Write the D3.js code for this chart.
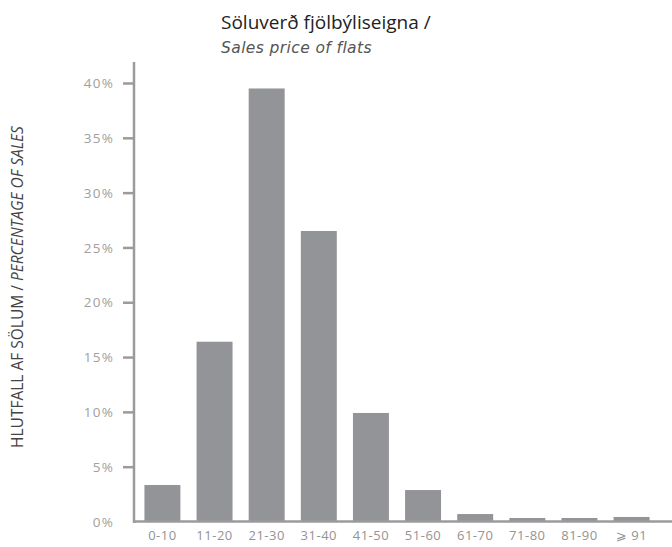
<!DOCTYPE html>
<html><head><meta charset="utf-8">
<script src="https://cdn.jsdelivr.net/npm/d3@7"></script>
<style>body{margin:0;background:#fff}svg{display:block}</style>
</head><body><svg id="c" width="672" height="547"></svg>
<script>
const categories = ["0-10","11-20","21-30","31-40","41-50","51-60","61-70","71-80","81-90","\u2A7E 91"];
const shares = [3.33, 16.4, 39.5, 26.5, 9.9, 2.87, 0.68, 0.32, 0.32, 0.41];
const yTicks = [0,5,10,15,20,25,30,35,40];

const svg = d3.select("#c");
const font = "'Open Sans', 'DejaVu Sans', sans-serif";
const axisColor = "#9b9b9e";
const x = d3.scaleBand().domain(categories).range([134, 660]).paddingInner(0.31).paddingOuter(0.2);
const y = d3.scaleLinear().domain([0, 40]).range([521.5, 83]);

// bars
svg.append("g").selectAll("rect").data(shares).join("rect")
  .attr("x", (d,i) => x(categories[i]))
  .attr("width", x.bandwidth())
  .attr("y", d => y(d))
  .attr("height", d => y(0) - y(d))
  .attr("fill", "#939498");

// y axis
const ya = svg.append("g").attr("transform", "translate(134,0)")
  .call(d3.axisLeft(y).tickValues(yTicks).tickSize(11).tickPadding(9).tickFormat(d => d + "%"));
ya.select(".domain").remove();
ya.selectAll(".tick line").attr("stroke", axisColor).attr("stroke-width", 2.5);
ya.selectAll(".tick").filter(d => d === 0).select("line").remove();
ya.selectAll(".tick text").attr("fill", "#a0a0a0").style("font-family", font)
  .style("font-size", "13.5px").style("letter-spacing", "1.2px").attr("dy", "0.34em");
svg.append("line").attr("x1", 134).attr("x2", 134).attr("y1", 62).attr("y2", y(0) + 1.5)
  .attr("stroke", axisColor).attr("stroke-width", 2.5);

// x axis
const xa = svg.append("g").attr("transform", `translate(0,${y(0)})`)
  .call(d3.axisBottom(x).tickSize(0).tickPadding(9));
xa.select(".domain").remove();
xa.selectAll(".tick text").attr("fill", "#939393").style("font-family", font)
  .style("font-size", "13px").style("letter-spacing", "0.5px");
svg.append("line").attr("x1", 133).attr("x2", 672).attr("y1", y(0)).attr("y2", y(0))
  .attr("stroke", axisColor).attr("stroke-width", 2.5);

// title
svg.append("text").attr("x", 221).attr("y", 29).attr("fill", "#222")
  .style("font-family", font).style("font-size", "19px").text("Söluverð fjölbýliseigna /");
svg.append("text").attr("x", 221).attr("y", 53).attr("fill", "#555")
  .style("font-family", "'DejaVu Sans', sans-serif").style("font-size", "15.5px")
  .style("letter-spacing", "0.4px").style("font-style", "italic").text("Sales price of flats");

// y title
const yt = svg.append("text").attr("transform", "translate(23,287) rotate(-90)").attr("text-anchor", "middle")
  .attr("fill", "#444").style("font-family", font).style("font-size", "15.5px");
yt.append("tspan").text("HLUTFALL AF SÖLUM / ");
yt.append("tspan").style("font-style", "italic").text("PERCENTAGE OF SALES");
</script></body></html>
